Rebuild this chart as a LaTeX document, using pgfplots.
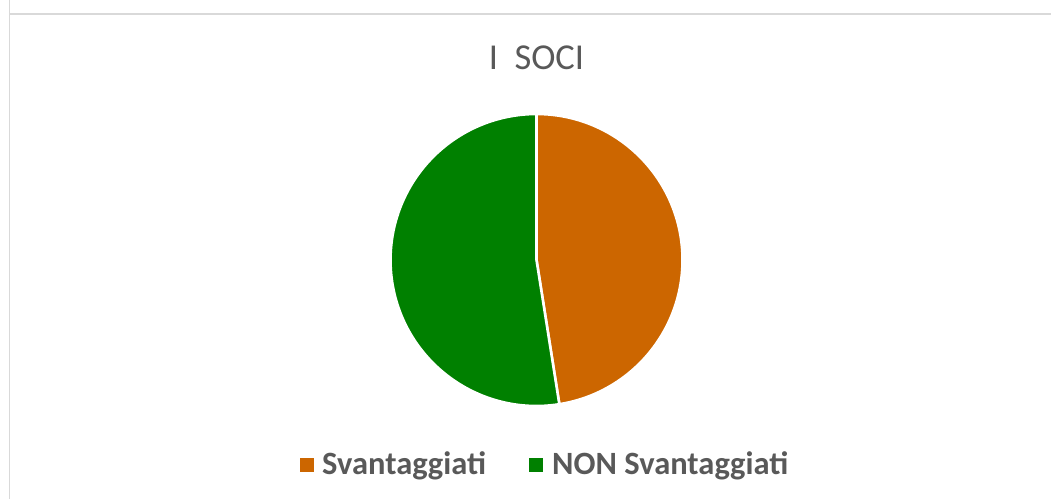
\documentclass[border=0pt]{standalone}
\usepackage{fontspec}
\setmainfont{Carlito}
\usepackage{pgfplots}
\usepackage{pgfplotstable}
\pgfplotsset{compat=1.18}
\definecolor{orng}{RGB}{204,102,0}
\definecolor{grn}{RGB}{0,128,0}
\definecolor{txt}{RGB}{89,89,89}
\definecolor{brd}{RGB}{217,217,217}
\pgfplotstableread{
label value
Svantaggiati 19
NONSvantaggiati 21
}\piedata
\begin{document}
\begin{tikzpicture}
\pgfplotstablegetelem{0}{value}\of\piedata \let\va\pgfplotsretval
\pgfplotstablegetelem{1}{value}\of\piedata \let\vb\pgfplotsretval
\pgfmathsetmacro\aend{90-360*\va/(\va+\vb)}
\pgfmathsetmacro\bend{\aend-360*\vb/(\va+\vb)}
\useasboundingbox (0,0) rectangle (1051pt,498pt);
\begin{axis}[
  at={(0,0)}, anchor=south west,
  width=1051pt, height=498pt, scale only axis,
  xmin=0, xmax=1051, ymin=0, ymax=498,
  hide axis, clip=false,
]
\draw[brd, line width=1.6pt] (axis cs:9.5,502) -- (axis cs:9.5,484) -- (axis cs:1055,484);
\draw[brd, line width=1.6pt] (axis cs:9.5,484) -- (axis cs:9.5,-4);
\node[txt, font=\fontsize{36.5}{40}\selectfont, anchor=base] at (axis cs:536.5,428) {I\ \ SOCI};
\fill[orng, draw=white, line width=2.6pt, line join=round] (axis cs:536.5,238) -- ++(90:146pt) arc[start angle=90, end angle=\aend, radius=146pt] -- cycle;
\fill[grn, draw=white, line width=2.6pt, line join=round] (axis cs:536.5,238) -- ++(\aend:146pt) arc[start angle=\aend, end angle=\bend, radius=146pt] -- cycle;
\fill[orng] (axis cs:300,26) rectangle (axis cs:314,40);
\node[txt, font=\fontsize{32.5}{36}\selectfont\bfseries, anchor=base west, inner sep=0pt] at (axis cs:322,24) {Svantaggiati};
\fill[grn] (axis cs:529,26) rectangle (axis cs:543,40);
\node[txt, font=\fontsize{32.5}{36}\selectfont\bfseries, anchor=base west, inner sep=0pt] at (axis cs:552,24) {NON Svantaggiati};
\end{axis}
\end{tikzpicture}
\end{document}
